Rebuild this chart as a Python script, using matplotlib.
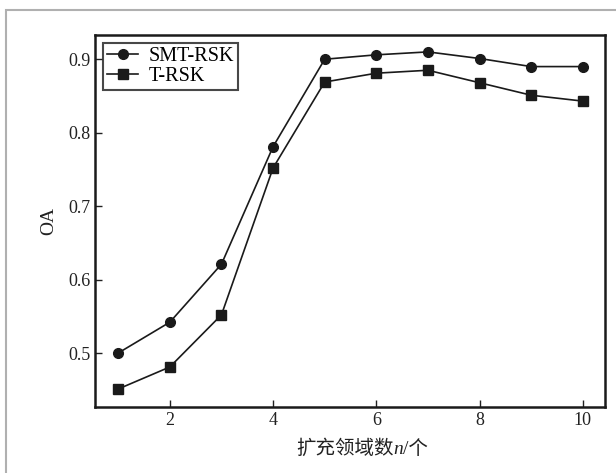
import matplotlib
matplotlib.use("Agg")
import matplotlib.pyplot as plt
from matplotlib.patches import Rectangle

plt.rcParams['font.family'] = ['Liberation Serif', 'Noto Sans CJK SC']

n = [1, 2, 3, 4, 5, 6, 7, 8, 9, 10]
smt_rsk = [0.500, 0.542, 0.621, 0.781, 0.900, 0.906, 0.910, 0.901, 0.890, 0.890]
t_rsk = [0.451, 0.481, 0.552, 0.752, 0.869, 0.881, 0.885, 0.868, 0.851, 0.843]
xlabel_parts = ['扩充领域数', 'n', '/个']

W, H = 616, 473
fig = plt.figure(figsize=(W / 100, H / 100), dpi=100)
ax = fig.add_axes([95 / W, 1 - 407 / H, 510 / W, 372 / H])

# light grey frame round the picture
fig.patches.append(Rectangle((6 / W, -0.05), 1.1, 1 - 10 / H + 0.05,
                             transform=fig.transFigure, fill=False,
                             edgecolor='#b0b0b0', linewidth=1.5))

ax.plot(n, smt_rsk, color='#1a1a1a', marker='o', markersize=7, linewidth=1.2, label='SMT-RSK')
ax.plot(n, t_rsk, color='#1a1a1a', marker='s', markersize=6.5, linewidth=1.2, label='T-RSK')

ax.set_xlim(0.55, 10.43)
ax.set_ylim(0.4265, 0.933)
ax.set_xticks([2, 4, 6, 8, 10])
ax.set_yticks([0.5, 0.6, 0.7, 0.8, 0.9])
ax.tick_params(direction='in', length=5, width=1, labelsize=13, colors='#222222')
for s in ax.spines.values():
    s.set_linewidth(1.8)
    s.set_color('#1a1a1a')

ax.set_ylabel('OA', fontsize=14, labelpad=8, color='#222222')

# x label in pieces so that n can be italic
renderer = fig.canvas.get_renderer()
styles = [dict(family=['Noto Sans CJK SC']),
          dict(family=['Liberation Serif'], style='italic'),
          dict(family=['Liberation Serif', 'Noto Sans CJK SC'])]
texts = [fig.text(0, 0, s, fontsize=14, color='#222222', va='baseline', **st)
         for s, st in zip(xlabel_parts, styles)]
widths = [t.get_window_extent(renderer).width for t in texts]
x = 362 - sum(widths) / 2
for t, w in zip(texts, widths):
    t.set_position((x / W, 1 - 454 / H))
    x += w

leg = ax.legend(loc='upper left', fontsize=14.5, frameon=True, fancybox=False,
                borderaxespad=0.4, handlelength=1.55, borderpad=0.2,
                labelspacing=0.05, handletextpad=0.5)
leg.get_frame().set_edgecolor('#1a1a1a')
leg.get_frame().set_linewidth(1.5)

fig.savefig('out.png', dpi=100)
